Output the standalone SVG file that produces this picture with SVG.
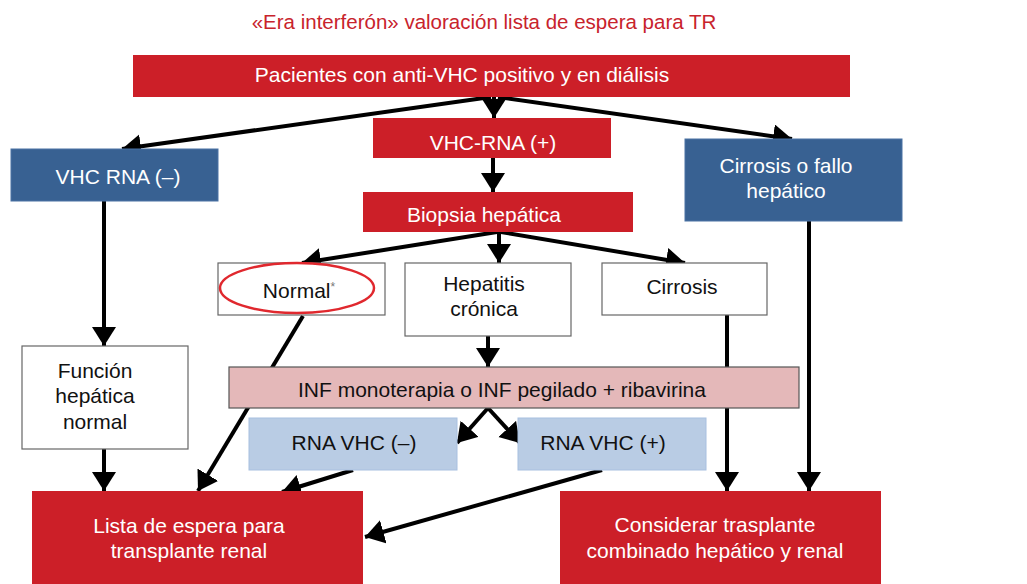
<svg xmlns="http://www.w3.org/2000/svg" width="1027" height="584" viewBox="0 0 1027 584">
<style>
text{font-family:"Liberation Sans",Arial,sans-serif;font-size:21px;text-anchor:middle}
.w{fill:#ffffff}
.k{fill:#111111}
.red{fill:#cc1f28}
.blue{fill:#386192;stroke:#4a72a4;stroke-width:1}
.lb{fill:#b9cce4;stroke:#a8c0e0;stroke-width:1}
.pk{fill:#e4b8b9;stroke:#555555;stroke-width:1.2}
.wb{fill:#ffffff;stroke:#666666;stroke-width:1.2}
.ln{stroke:#000;stroke-width:4;fill:none;marker-end:url(#ah)}
</style>
<defs>
<marker id="ah" markerUnits="userSpaceOnUse" markerWidth="26" markerHeight="26" refX="19" refY="12" orient="auto">
<path d="M0,0 L19,12 L0,24 z" fill="#000"/>
</marker>
</defs>
<rect width="1027" height="584" fill="#ffffff"/>
<text x="484" y="29" style="fill:#c8232c;font-size:20.5px">«Era interferón» valoración lista de espera para TR</text>

<g id="connectors">
<line class="ln" x1="491" y1="97" x2="122" y2="149"/>
<line class="ln" x1="494" y1="97" x2="494" y2="118"/>
<line class="ln" x1="498" y1="97" x2="792" y2="139"/>
<line class="ln" x1="493" y1="158" x2="493" y2="192"/>
<line class="ln" x1="497" y1="232" x2="302" y2="263"/>
<line class="ln" x1="499" y1="232" x2="499" y2="263"/>
<line class="ln" x1="501" y1="232" x2="685" y2="263"/>
<line class="ln" x1="104" y1="201" x2="104" y2="346"/>
<line class="ln" x1="488" y1="336" x2="488" y2="367"/>
<line class="ln" x1="488" y1="408" x2="457" y2="443"/>
<line class="ln" x1="488" y1="408" x2="520" y2="443"/>
<line class="ln" x1="104" y1="449" x2="104" y2="491"/>
<line class="ln" x1="303" y1="316" x2="198" y2="491"/>
<line class="ln" x1="353" y1="470" x2="282" y2="492"/>
<line class="ln" x1="602" y1="470" x2="365" y2="537"/>
<line class="ln" x1="727" y1="315" x2="727" y2="491"/>
<line class="ln" x1="809" y1="221" x2="809" y2="491"/>
</g>

<g id="n-pacientes">
<rect class="red" x="133" y="55" width="717" height="42"/>
<text class="w" x="462" y="82">Pacientes con anti-VHC positivo y en diálisis</text>
</g>
<g id="n-vhcrna-pos">
<rect class="red" x="373" y="118" width="238" height="40"/>
<text class="w" x="493" y="150">VHC-RNA (+)</text>
</g>
<g id="n-vhcrna-neg">
<rect class="blue" x="11" y="149" width="207" height="52"/>
<text class="w" x="118" y="184">VHC RNA (–)</text>
</g>
<g id="n-cirrosis-fallo">
<rect class="blue" x="685" y="139" width="217" height="82"/>
<text class="w" x="786" y="173">Cirrosis o fallo</text>
<text class="w" x="786" y="198">hepático</text>
</g>
<g id="n-biopsia">
<rect class="red" x="363" y="192" width="270" height="40"/>
<text class="w" x="484" y="222">Biopsia hepática</text>
</g>
<g id="n-normal">
<rect class="wb" x="218" y="263" width="167" height="52"/>
<ellipse cx="297" cy="288" rx="77" ry="25" fill="none" stroke="#e0282e" stroke-width="2.5"/>
<text class="k" x="299" y="298">Normal<tspan style="font-size:12px;fill:#777" dy="-7">*</tspan></text>
</g>
<g id="n-hepatitis">
<rect class="wb" x="405" y="263" width="166" height="73"/>
<text class="k" x="484" y="291">Hepatitis</text>
<text class="k" x="484" y="316">crónica</text>
</g>
<g id="n-cirrosis">
<rect class="wb" x="602" y="263" width="165" height="52"/>
<text class="k" x="682" y="294">Cirrosis</text>
</g>
<g id="n-funcion">
<rect class="wb" x="22" y="346" width="166" height="103"/>
<text class="k" x="95" y="378">Función</text>
<text class="k" x="95" y="403">hepática</text>
<text class="k" x="95" y="429">normal</text>
</g>
<g id="n-inf">
<rect class="pk" x="229" y="367" width="570" height="41"/>
<text class="k" x="502" y="397">INF monoterapia o INF pegilado + ribavirina</text>
</g>
<g id="n-rna-neg">
<rect class="lb" x="249" y="418" width="208" height="52"/>
<text class="k" x="354" y="450">RNA VHC (–)</text>
</g>
<g id="n-rna-pos">
<rect class="lb" x="518" y="418" width="188" height="52"/>
<text class="k" x="603" y="450">RNA VHC (+)</text>
</g>
<g id="n-lista">
<rect class="red" x="32" y="491" width="331" height="95"/>
<text class="w" x="189" y="533">Lista de espera para</text>
<text class="w" x="189" y="558">transplante renal</text>
</g>
<g id="n-considerar">
<rect class="red" x="560" y="491" width="321" height="95"/>
<text class="w" x="715" y="532">Considerar trasplante</text>
<text class="w" x="715" y="558">combinado hepático y renal</text>
</g>
</svg>
